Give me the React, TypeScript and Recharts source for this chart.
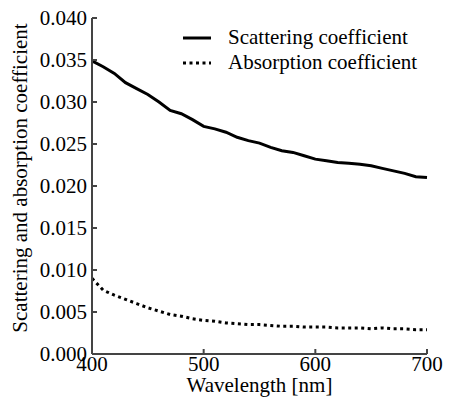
import { Line, LineChart, XAxis, YAxis } from "recharts";

const wavelengths = [
  400, 410, 420, 430, 440, 450, 460, 470, 480, 490, 500, 510, 520, 530, 540, 550,
  560, 570, 580, 590, 600, 610, 620, 630, 640, 650, 660, 670, 680, 690, 700,
];

const scattering = [
  0.0349, 0.0342, 0.0334, 0.0323, 0.0316, 0.0309, 0.03, 0.029, 0.0286, 0.0279,
  0.0271, 0.0268, 0.0264, 0.0258, 0.0254, 0.0251, 0.0246, 0.0242, 0.024, 0.0236,
  0.0232, 0.023, 0.0228, 0.0227, 0.0226, 0.0224, 0.0221, 0.0218, 0.0215, 0.0211,
  0.021,
];

const absorption = [
  0.009, 0.0076, 0.007, 0.0065, 0.006, 0.0055, 0.0051, 0.0047, 0.0045, 0.0042,
  0.004, 0.0039, 0.0037, 0.0036, 0.0035, 0.0035, 0.0034, 0.0033, 0.0033, 0.0032,
  0.0032, 0.0032, 0.0031, 0.0031, 0.0031, 0.003, 0.0031, 0.003, 0.003, 0.0029,
  0.0029,
];

const xTicks = [400, 500, 600, 700];
const yTicks = [0, 0.005, 0.01, 0.015, 0.02, 0.025, 0.03, 0.035, 0.04];

const data = wavelengths.map((w, i) => ({
  wavelength: w,
  scattering: scattering[i],
  absorption: absorption[i],
}));

const font = "Liberation Serif, serif";
const fontSize = 21;
const spine = "#444444";

// legend drawn as an overlay so it doesn't eat plot space
function LegendBox() {
  const rows = [
    { name: "Scattering coefficient", dash: undefined },
    { name: "Absorption coefficient", dash: "3 3.5" },
  ];
  return (
    <div
      style={{
        position: "absolute",
        left: 183,
        top: 25,
        fontFamily: font,
        fontSize,
        lineHeight: "25px",
        color: "#000",
      }}
    >
      {rows.map((r) => (
        <div key={r.name} style={{ display: "flex", alignItems: "center", height: 25 }}>
          <svg width={45} height={10}>
            <line x1={0} y1={5} x2={28} y2={5} stroke="#000" strokeWidth={3} strokeDasharray={r.dash} />
          </svg>
          <span>{r.name}</span>
        </div>
      ))}
    </div>
  );
}

function YLabel(props: any) {
  const vb = props.viewBox;
  const cy = vb.y + vb.height / 2 - 8;
  return (
    <text
      x={20}
      y={cy}
      transform={`rotate(-90 20 ${cy})`}
      textAnchor="middle"
      dominantBaseline="central"
      fontFamily={font}
      fontSize={fontSize}
      fill="#000"
    >
      Scattering and absorption coefficient
    </text>
  );
}

export default function App() {
  return (
    <div style={{ position: "absolute", left: 0, top: 0, width: 451, height: 402, background: "#fff" }}>
      <LineChart
        width={451}
        height={402}
        data={data}
        margin={{ top: 18, right: 24, bottom: 0, left: 0 }}
      >
        <XAxis
          dataKey="wavelength"
          type="number"
          domain={[400, 700]}
          ticks={xTicks}
          height={48}
          stroke={spine}
          strokeWidth={2}
          tickSize={-5}
          tickMargin={7}
          tick={{ fill: "#000", fontSize, fontFamily: font }}
          label={{
            value: "Wavelength [nm]",
            position: "insideBottom",
            offset: 10,
            fill: "#000",
            fontSize,
            fontFamily: font,
          }}
        />
        <XAxis
          xAxisId="top"
          dataKey="wavelength"
          type="number"
          orientation="top"
          domain={[400, 700]}
          ticks={xTicks}
          height={0}
          stroke={spine}
          strokeWidth={2}
          tickSize={-5}
          tick={false}
        />
        <YAxis
          type="number"
          domain={[0, 0.04]}
          ticks={yTicks}
          width={92}
          stroke={spine}
          strokeWidth={2}
          tickSize={-5}
          tickMargin={10}
          tickFormatter={(v: number) => v.toFixed(3)}
          tick={{ fill: "#000", fontSize, fontFamily: font }}
          label={<YLabel />}
        />
        <YAxis
          yAxisId="right"
          orientation="right"
          type="number"
          domain={[0, 0.04]}
          ticks={yTicks}
          width={0}
          stroke={spine}
          strokeWidth={2}
          tickSize={-5}
          tick={false}
        />
        <Line
          type="linear"
          dataKey="scattering"
          stroke="#000"
          strokeWidth={3}
          dot={false}
          isAnimationActive={false}
        />
        <Line
          type="linear"
          dataKey="absorption"
          stroke="#000"
          strokeWidth={3}
          strokeDasharray="3 3.5"
          dot={false}
          isAnimationActive={false}
        />
      </LineChart>
      <LegendBox />
    </div>
  );
}
